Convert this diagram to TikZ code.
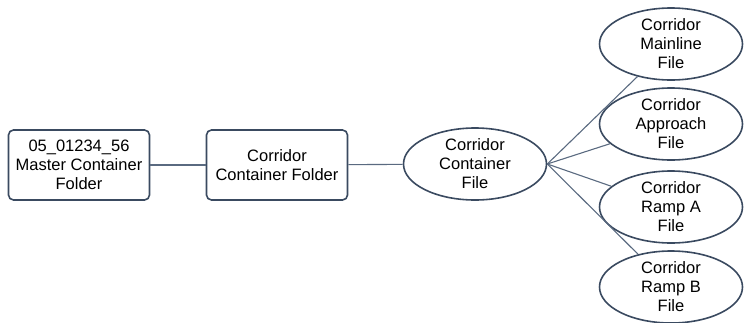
\documentclass[tikz,border=0pt]{standalone}
\usepackage{fontspec}
\setmainfont{Liberation Sans}
\usetikzlibrary{shapes.geometric}
\definecolor{edgeblue}{HTML}{3A4A60}
\definecolor{linegray}{HTML}{5A6A80}
\tikzset{
  folderbox/.style={draw=edgeblue,line width=1.6pt,rounded corners=5pt,minimum width=141pt,minimum height=70pt,align=center,inner sep=2pt},
  filebox/.style={draw=edgeblue,line width=1.6pt,ellipse,minimum width=143pt,minimum height=72pt,inner xsep=0pt,inner ysep=-5pt,align=center},
  link/.style={draw=linegray,line width=1.1pt}
}
\begin{document}
\begin{tikzpicture}[x=1pt,y=-1pt,font=\fontsize{16.5}{19}\selectfont]
\useasboundingbox (0,0) rectangle (747,322);
\node[folderbox] (master) at (79,165) {05\_01234\_56\\Master Container\\Folder};
\node[folderbox] (folder) at (277,165) {Corridor\\Container Folder};
\node[filebox] (cfile) at (475,164) {Corridor\\Container\\File};
\node[filebox] (mainline) at (671,44) {Corridor\\Mainline\\File};
\node[filebox] (approach) at (671,124) {Corridor\\Approach\\File};
\node[filebox] (rampa) at (671,207) {Corridor\\Ramp A\\File};
\node[filebox] (rampb) at (671,287) {Corridor\\Ramp B\\File};
\draw[link] (master) -- (folder);
\draw[link] (folder) -- (cfile);
\draw[link] (cfile.east) -- (mainline);
\draw[link] (cfile.east) -- (approach);
\draw[link] (cfile.east) -- (rampa);
\draw[link] (cfile.east) -- (rampb);
\end{tikzpicture}
\end{document}
